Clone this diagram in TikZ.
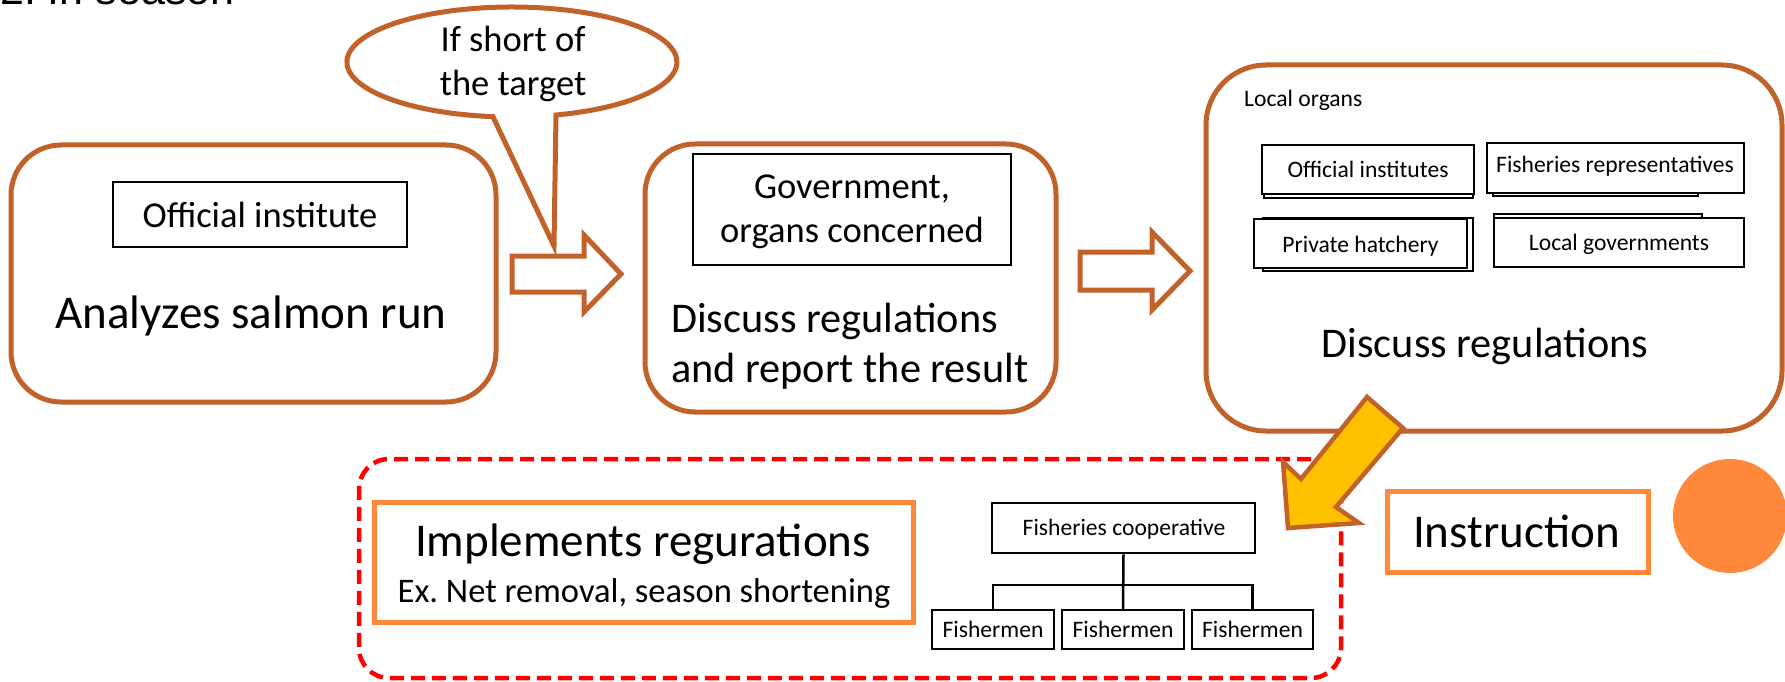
\documentclass[tikz,border=0pt]{standalone}
\usepackage{fontspec}
\setmainfont{Carlito}
\newfontfamily\titlefont{Liberation Sans}
\definecolor{brn}{RGB}{192,98,42}
\definecolor{org}{RGB}{255,137,58}
\definecolor{ylw}{RGB}{255,192,0}
\definecolor{dred}{RGB}{255,0,0}
\newcommand{\fsHuge}{\fontsize{47}{56}\selectfont}
\newcommand{\fsLarge}{\fontsize{42.3}{50}\selectfont}
\newcommand{\fsMid}{\fontsize{36.5}{44}\selectfont}
\newcommand{\fsEx}{\fontsize{34.5}{42}\selectfont}
\newcommand{\fsSmall}{\fontsize{23.6}{28}\selectfont}
\frenchspacing
\begin{document}
\begin{tikzpicture}[x=1pt,y=-1pt,
  bigbox/.style={draw=brn, line width=5pt, rounded corners=50pt, fill=white, inner sep=0pt},
  inbox/.style={draw=black, line width=2.8pt, fill=white, inner sep=0pt},
  orgbox/.style={draw=black, line width=2.5pt, fill=white, inner sep=0pt},
  obox/.style={draw=org, line width=5pt, fill=white, inner sep=0pt},
  blockarrow/.style={draw=brn, line width=5pt, fill=white, line join=miter},
  txt/.style={inner sep=0pt, anchor=base},
]
\useasboundingbox (0,0) rectangle (1785,682);

% title (cut off at top)
\node[inner sep=0pt, anchor=base west] (title) at (0,5) {\titlefont\fontsize{43}{50}\selectfont 2. In season};

% box 1
\node[bigbox, minimum width=485pt, minimum height=257pt] (b1) at (253.5,273.5) {};
\node[inbox, minimum width=294pt, minimum height=65pt] (b1in) at (260,214.5) {};
\node[txt] (b1int) at (260,227) {\fsMid Official institute};
\node[txt] (b1t) at (251,328) {\fsHuge Analyzes salmon run};

% box 2
\node[bigbox, minimum width=411pt, minimum height=268pt] (b2) at (850.5,278) {};
\node[inbox, minimum width=318pt, minimum height=111pt] (b2in) at (852,209.5) {};
\node[txt] (b2int1) at (852,198) {\fsMid Government,};
\node[txt] (b2int2) at (852,242) {\fsMid organs concerned};
\node[txt, anchor=base west] (b2t1) at (671,332) {\fsLarge Discuss regulations};
\node[txt, anchor=base west] (b2t2) at (671,382) {\fsLarge and report the result};

% box 3
\node[bigbox, rounded corners=60pt, minimum width=576pt, minimum height=366pt] (b3) at (1494,248) {};
\node[txt, anchor=base west] (b3lbl) at (1244,107) {\fsSmall Local organs};
% official institutes
\node[inbox, minimum width=209pt, minimum height=49pt] (oi2) at (1368.5,173.5) {};
\node[inbox, minimum width=212pt, minimum height=49pt] (oi) at (1368,169.5) {};
\node[txt] (oit) at (1368,177) {\fsSmall Official institutes};
% fisheries representatives
\node[inbox, minimum width=205pt, minimum height=49pt] (fr2) at (1595.5,171.5) {};
\node[inbox, minimum width=257pt, minimum height=50pt] (fr) at (1615.5,168) {};
\node[txt] (frt) at (1615,172) {\fsSmall Fisheries representatives};
% private hatchery
\node[inbox, minimum width=210pt, minimum height=53pt] (ph2) at (1368,244.5) {};
\node[inbox, minimum width=213pt, minimum height=49pt] (ph) at (1360.5,243.5) {};
\node[txt] (pht) at (1360.5,252) {\fsSmall Private hatchery};
% local governments
\node[inbox, minimum width=208pt, minimum height=50pt] (lg2) at (1598,239) {};
\node[inbox, minimum width=250pt, minimum height=49pt] (lg) at (1619,242.5) {};
\node[txt] (lgt) at (1619,250) {\fsSmall Local governments};
\node[txt] (b3t) at (1485,357) {\fsLarge Discuss regulations};

% callout
\coordinate (ctip) at (554,246);
\draw[brn, line width=5pt, fill=white, line join=miter]
  (556,115) arc[start angle=-74.5, end angle=263.4, x radius=165pt, y radius=55pt]
  -- (ctip) -- cycle;
\node[txt] (call1) at (513,52) {\fsMid If short of};
\node[txt] (call2) at (513,96) {\fsMid the target};

% block arrows
\draw[blockarrow] (512,256) -- (584,256) -- (584,235) -- (621,274) -- (584,312) -- (584,292) -- (512,292) -- cycle;
\draw[blockarrow] (1080,252) -- (1152,252) -- (1152,232) -- (1190,271) -- (1152,310) -- (1152,290) -- (1080,290) -- cycle;

% dashed region
\node[draw=dred, line width=4.5pt, dash pattern=on 14pt off 7pt, rounded corners=30pt,
      minimum width=982pt, minimum height=219pt, inner sep=0pt] (dbox) at (850,568.5) {};

% implements box
\node[obox, minimum width=539pt, minimum height=120pt] (imp) at (643.5,562) {};
\node[txt] (impt1) at (643,556) {\fsHuge Implements regurations};
\node[txt] (impt2) at (644,602) {\fsEx Ex. Net removal, season shortening};

% org chart
\node[orgbox, minimum width=263pt, minimum height=50pt] (coop) at (1123.5,528) {};
\node[txt] (coopt) at (1124,535) {\fsSmall Fisheries cooperative};
\node[orgbox, minimum width=122pt, minimum height=39pt] (f1) at (993,629.5) {};
\node[orgbox, minimum width=122pt, minimum height=39pt] (f2) at (1123,629.5) {};
\node[orgbox, minimum width=121pt, minimum height=39pt] (f3) at (1252.5,629.5) {};
\node[txt] (f1t) at (993,637) {\fsSmall Fishermen};
\node[txt] (f2t) at (1123,637) {\fsSmall Fishermen};
\node[txt] (f3t) at (1252.5,637) {\fsSmall Fishermen};
\draw[line width=2.5pt] (coop.south) -- (f2.north);
\draw[line width=2.5pt] (f1.north) -- ++(0,-24) -| (f3.north);

% yellow arrow
\draw[draw=brn, line width=4.5pt, fill=ylw, line join=miter]
  (1367,397) -- (1301,479) -- (1283,462) -- (1288,528) -- (1359,523) -- (1336,507) -- (1403,428) -- cycle;

% instruction
\node[obox, minimum width=261pt, minimum height=81pt] (instr) at (1517.5,531.5) {};
\node[txt] (instrt) at (1516.5,547) {\fsHuge Instruction};
\node[circle, fill=org, minimum size=114pt, inner sep=0pt] (dot) at (1730,516) {};
\end{tikzpicture}
\end{document}
